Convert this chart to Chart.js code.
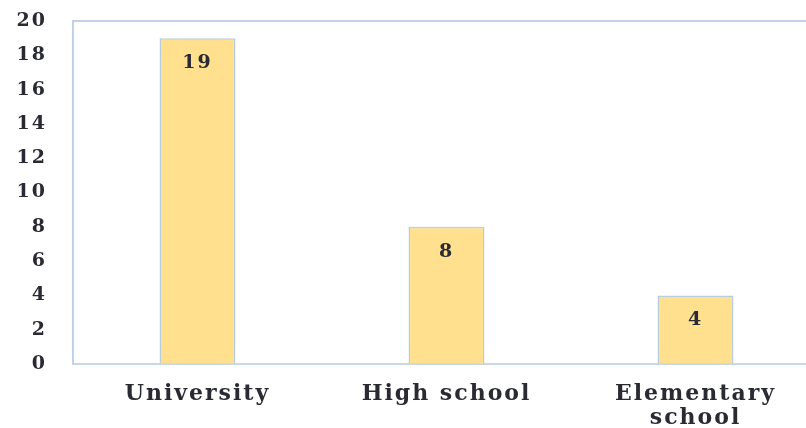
<!DOCTYPE html>
<html>
<head>
<meta charset="utf-8">
<script src="https://cdn.jsdelivr.net/npm/chart.js@4/dist/chart.umd.min.js"></script>
<style>
  html, body { margin: 0; padding: 0; background: #fff; overflow: hidden; }
  #wrap { width: 830px; height: 428px; }
</style>
</head>
<body>
<div id="wrap"><canvas id="chart"></canvas></div>
<script>
    // Chart data
    var categories = ["University", "High school", ["Elementary", "school"]];
    var values = [19, 8, 4];
    var yTicks = [0, 2, 4, 6, 8, 10, 12, 14, 16, 18, 20];

    var textColor = "#2a2a33";
    var frameColor = "#bfd2e8";
    var serif = "'DejaVu Serif', 'Liberation Serif', serif";

    // letter spacing survives canvas resets only if set again
    var spacing = {
        id: "spacing",
        beforeLayout: function (chart) { chart.ctx.letterSpacing = "2px"; },
        beforeDraw: function (chart) { chart.ctx.letterSpacing = "2px"; }
    };

    // top edge of the plot frame
    var topFrame = {
        id: "topFrame",
        beforeDatasetsDraw: function (chart) {
            var a = chart.chartArea;
            var ctx = chart.ctx;
            ctx.save();
            ctx.strokeStyle = frameColor;
            ctx.lineWidth = 2;
            ctx.beginPath();
            ctx.moveTo(a.left - 1, a.top);
            ctx.lineTo(a.right, a.top);
            ctx.stroke();
            ctx.restore();
        }
    };

    // value labels inside the top of each bar
    var barLabels = {
        id: "barLabels",
        afterDatasetsDraw: function (chart) {
            var ctx = chart.ctx;
            var meta = chart.getDatasetMeta(0);
            ctx.save();
            ctx.font = "bold 19px " + serif;
            ctx.fillStyle = textColor;
            ctx.textAlign = "center";
            ctx.textBaseline = "middle";
            meta.data.forEach(function (bar, i) {
                ctx.fillText(String(values[i]), bar.x, bar.y + 25);
            });
            ctx.restore();
        }
    };

    var ctx = document.getElementById("chart").getContext("2d");
    var myChart = new Chart(ctx, {
        type: "bar",
        data: {
            labels: categories,
            datasets: [{
                data: values,
                backgroundColor: "#fee08f",
                borderColor: "#b8cce0",
                borderWidth: 1.5,
                barPercentage: 0.305,
                categoryPercentage: 1
            }]
        },
        options: {
            responsive: true,
            maintainAspectRatio: false,
            animation: false,
            layout: { padding: { top: 21, left: 0, right: 10, bottom: 0 } },
            plugins: {
                legend: { display: false },
                tooltip: { enabled: false }
            },
            scales: {
                x: {
                    position: "bottom",
                    grid: { display: false, drawTicks: false },
                    border: { color: "#c9d7e6", width: 2 },
                    ticks: {
                        color: textColor,
                        padding: 18,
                        maxRotation: 0,
                        font: { family: serif, size: 22, weight: "bold", lineHeight: 1.1 }
                    },
                    afterFit: function (scale) { scale.height = 64; }
                },
                y: {
                    min: 0,
                    max: 20,
                    // invisible tick marks push the labels away from the axis
                    grid: {
                        display: true,
                        drawOnChartArea: false,
                        drawTicks: true,
                        tickLength: 26,
                        color: "rgba(0,0,0,0)"
                    },
                    border: { color: frameColor, width: 2 },
                    afterBuildTicks: function (scale) {
                        scale.ticks = yTicks.map(function (v) { return { value: v }; });
                    },
                    ticks: {
                        color: textColor,
                        padding: 0,
                        font: { family: serif, size: 19, weight: "bold" }
                    },
                    afterFit: function (scale) { scale.width = 73; }
                }
            }
        },
        plugins: [spacing, topFrame, barLabels]
    });
</script>
</body>
</html>
